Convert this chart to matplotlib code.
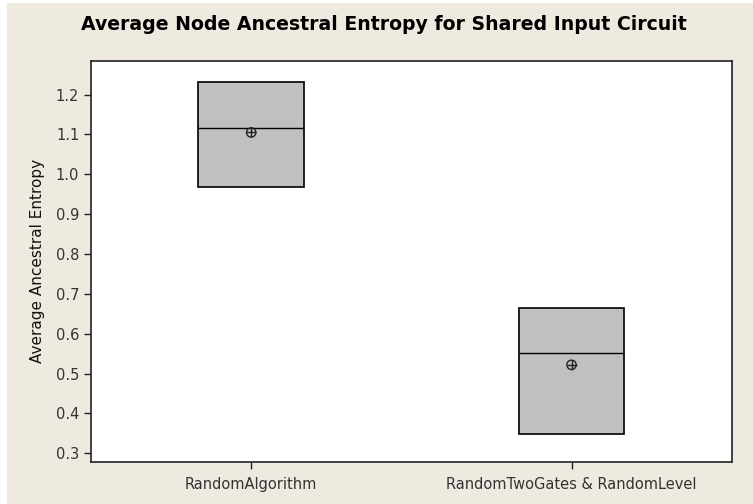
import numpy as np
import matplotlib.pyplot as plt
from matplotlib.patches import Rectangle

# box statistics
groups = ['RandomAlgorithm', 'RandomTwoGates & RandomLevel']
q1 = [0.967, 0.348]
median = [1.117, 0.552]
q3 = [1.232, 0.664]
mean = [1.105, 0.522]
yticks = [0.3, 0.4, 0.5, 0.6, 0.7, 0.8, 0.9, 1.0, 1.1, 1.2]

bg = '#EEEAE0'
fig = plt.figure(figsize=(7.53, 5.04), dpi=100, facecolor='white')
fig.patches.append(Rectangle((7 / 753, 0), 1, 1 - 3 / 504, transform=fig.transFigure,
                             facecolor=bg, edgecolor='none', zorder=-10))

ax = fig.add_axes([91 / 753, 1 - 461.7 / 504, (731.7 - 91) / 753, (461.7 - 60.7) / 504])
ax.set_facecolor('white')

stats = []
for i in range(len(groups)):
    stats.append(dict(label=groups[i], q1=q1[i], med=median[i], q3=q3[i],
                      whislo=q1[i], whishi=q3[i], fliers=[], mean=mean[i]))

pos = np.arange(1, len(groups) + 1)
ax.bxp(stats, positions=pos, widths=0.33, patch_artist=True,
       showcaps=False, showfliers=False, showmeans=False,
       boxprops=dict(facecolor='#C0C0C0', edgecolor='black', linewidth=1.2),
       medianprops=dict(color='black', linewidth=1.0),
       whiskerprops=dict(linewidth=0))

# mean symbol: circle with cross
ax.scatter(pos, mean, s=45, facecolors='none', edgecolors='#222222', linewidths=1.0, zorder=5)
ax.scatter(pos, mean, s=45, marker='+', color='#222222', linewidths=1.0, zorder=5)

ax.set_xlim(0.5, 2.5)
ax.set_ylim(0.279, 1.285)
ax.set_yticks(yticks)
ax.set_yticklabels(['%.1f' % v for v in yticks])
ax.set_xticks(pos)
ax.set_xticklabels(groups)

for s in ax.spines.values():
    s.set_linewidth(1.2)
    s.set_color('#222222')
ax.tick_params(axis='both', length=5, width=1, color='#222222', labelsize=10.5,
               labelcolor='#333333')
ax.tick_params(axis='x', pad=6)

ax.set_ylabel('Average Ancestral Entropy', fontsize=11, color='#111111', labelpad=8)
fig.text(384 / 753, 1 - 25 / 504, 'Average Node Ancestral Entropy for Shared Input Circuit',
         ha='center', va='center', fontsize=13.6, fontweight='bold')

fig.savefig('out.png', dpi=100, facecolor=fig.get_facecolor())
